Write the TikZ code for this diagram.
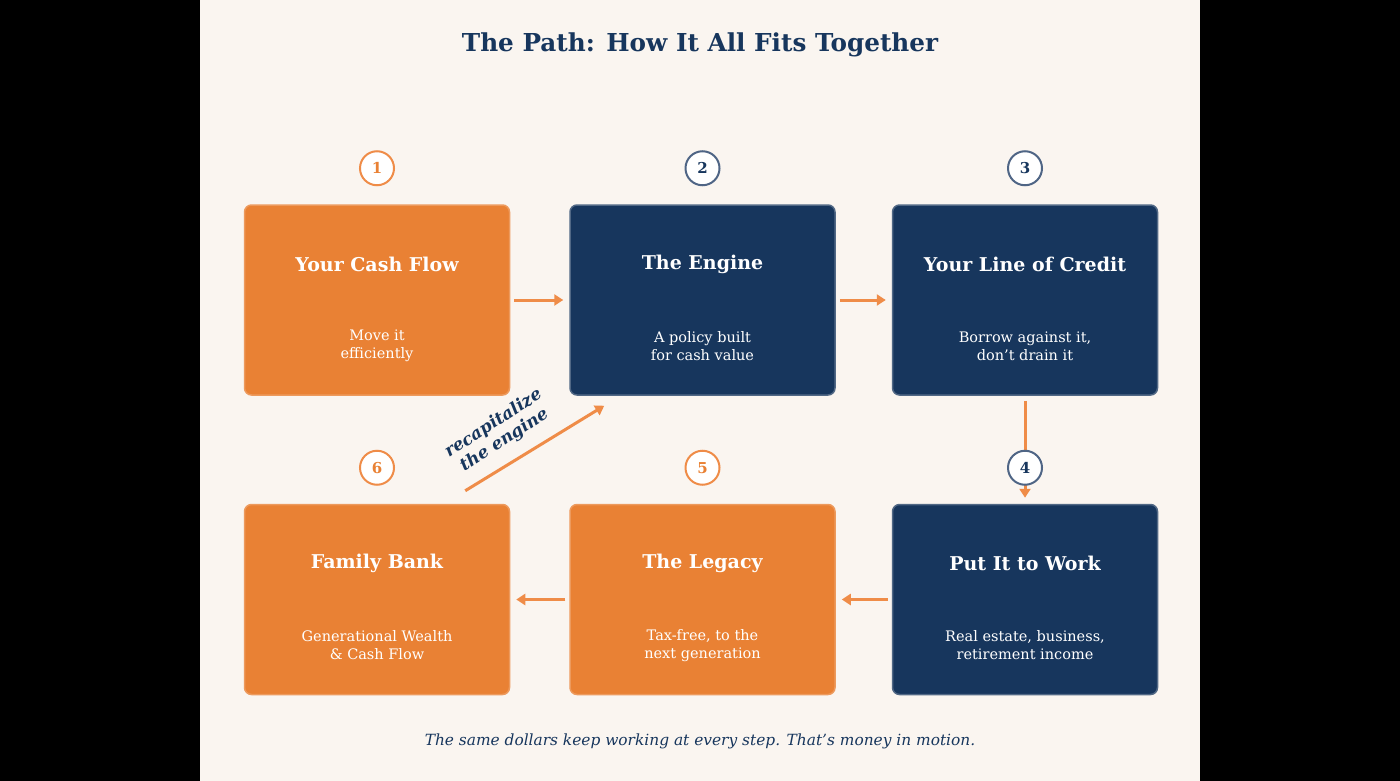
\documentclass[tikz,border=0pt]{standalone}
\usepackage{fontspec}
\setmainfont{DejaVu Serif}
\usetikzlibrary{positioning, calc, arrows.meta}
\definecolor{pathorange}{HTML}{E98134}
\definecolor{pathnavy}{HTML}{17365D}
\definecolor{pathcream}{HTML}{FAF5F0}
\definecolor{arroworange}{HTML}{EF8C48}
\definecolor{ringnavy}{HTML}{4F6585}

\begin{document}
\begin{tikzpicture}[x=1pt, y=-1pt,
    stepbox/.style={rounded corners=7pt, minimum width=265pt, minimum height=190pt, inner sep=0pt, line width=1.5pt},
    orangebox/.style={stepbox, fill=pathorange, draw=pathorange!80!white},
    navybox/.style={stepbox, fill=pathnavy, draw=pathnavy!75!white},
    boxtitle/.style={text=white, font=\fontsize{19}{23}\selectfont\bfseries},
    boxsub/.style={text=white, font=\fontsize{14.5}{18}\selectfont, align=center},
    badge/.style={circle, fill=white, line width=2pt, minimum size=34pt, inner sep=0pt, font=\fontsize{15}{15}\selectfont\bfseries},
    orangebadge/.style={badge, draw=arroworange, text=pathorange},
    navybadge/.style={badge, draw=ringnavy, text=pathnavy},
    flow/.style={draw=arroworange, line width=3pt, -{Triangle[length=9pt, width=11pt]}}
]

    % 1. Background: black side bars and the cream page
    \fill[black] (0,0) rectangle (1400,781);
    \fill[pathcream] (200,0) rectangle (1200,781);
    \useasboundingbox (0,0) rectangle (1400,781);

    % 2. Title
    \node[text=pathnavy, font=\fontsize{24.7}{29}\selectfont\bfseries] (title) at (700,45) {The Path: How It All Fits Together};

    % 3. The six step boxes
    \node[orangebox] (cash) at (377,300) {};
    \node[navybox, right=59pt of cash] (engine) {};
    \node[navybox, right=56pt of engine] (credit) {};
    \node[navybox, below=108pt of credit] (work) {};
    \node[orangebox, left=56pt of work] (legacy) {};
    \node[orangebox, left=59pt of legacy] (family) {};

    % 4. Box texts
    \foreach \stp/\head/\sub in {
        cash/{Your Cash Flow}/{Move it\\efficiently},
        engine/{The Engine}/{A policy built\\for cash value},
        credit/{Your Line of Credit}/{Borrow against it,\\don't drain it},
        work/{Put It to Work}/{Real estate, business,\\retirement income},
        legacy/{The Legacy}/{Tax-free, to the\\next generation},
        family/{Family Bank}/{Generational Wealth\\\& Cash Flow}%
    } {
        \node[boxtitle] at ($(\stp.center)+(0,-36)$) {\head};
        \node[boxsub] at ($(\stp.center)+(0,46)$) {\sub};
    }

    % 5. Connectors
    \draw[flow, shorten <=4pt, shorten >=6pt] (cash) -- (engine);
    \draw[flow, shorten <=4pt, shorten >=6pt] (engine) -- (credit);
    \draw[flow, shorten <=5pt, shorten >=6pt] (credit) -- (work);
    \draw[flow, shorten <=4pt, shorten >=6pt] (work) -- (legacy);
    \draw[flow, shorten <=4pt, shorten >=6pt] (legacy) -- (family);

    % recapitalize arrow, from the family bank back to the engine
    \coordinate (recapstart) at ($(family.north east)+(-45,-13)$);
    \coordinate (recapend) at ($(engine.south west)+(35,10)$);
    \draw[flow] (recapstart) -- (recapend);
    \node[rotate=33, text=pathnavy, align=center, font=\fontsize{17}{20}\selectfont\bfseries\itshape] (recaplabel) at (499,432) {recapitalize\\the engine};

    % 6. Numbered badges
    \foreach \stp/\num/\kind in {
        cash/1/orangebadge, engine/2/navybadge, credit/3/navybadge,
        work/4/navybadge, legacy/5/orangebadge, family/6/orangebadge%
    } {
        \node[\kind, above=18pt of \stp] (badge\num) {\num};
    }

    % 7. Footer
    \node[text=pathnavy, font=\fontsize{15.4}{18}\selectfont\itshape] (footer) at (700,741) {The same dollars keep working at every step. That's money in motion.};

\end{tikzpicture}
\end{document}
